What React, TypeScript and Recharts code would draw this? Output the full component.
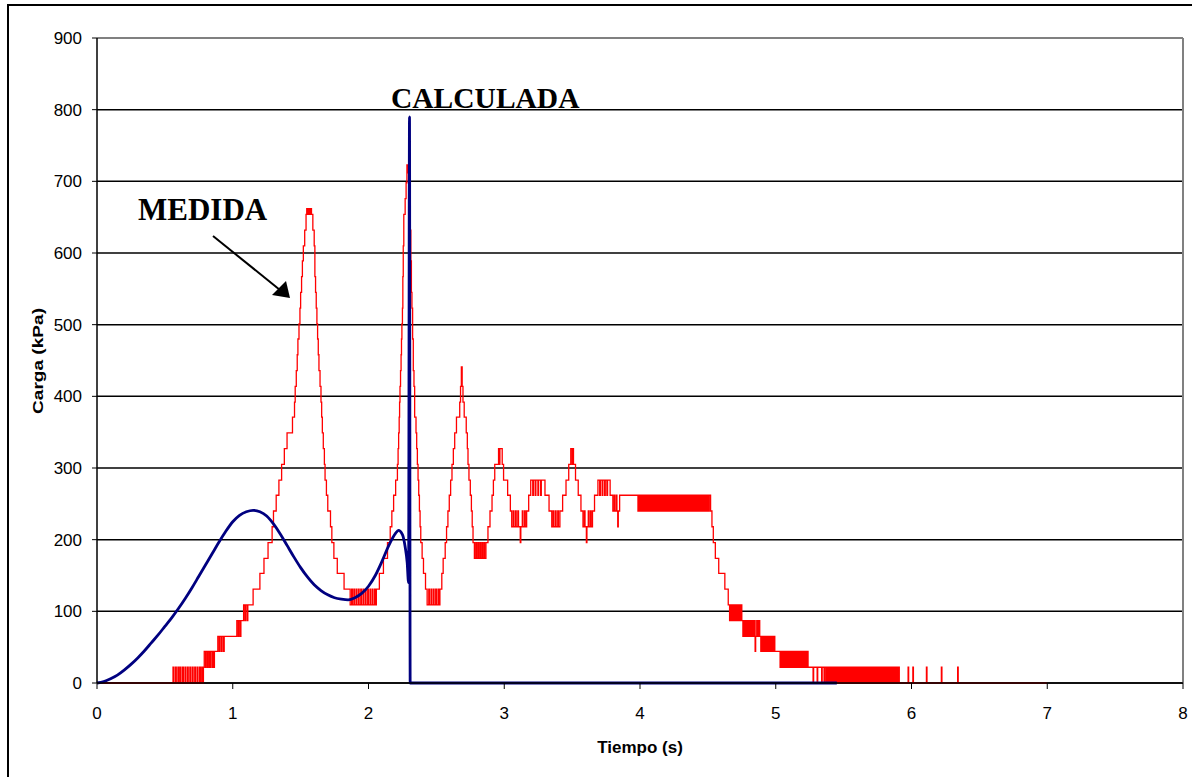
import { LineChart, Line, XAxis, YAxis, CartesianGrid, ReferenceLine } from 'recharts'

const MEDIDA_SUBIDA = [
    [0, 0], [0.56, 22], [0.566, 0], [0.578, 22], [0.584, 0], [0.596, 22], [0.602, 0], [0.612, 22], [0.618, 0],
    [0.63, 22], [0.636, 0], [0.648, 22], [0.654, 0], [0.666, 22], [0.672, 0], [0.684, 22], [0.69, 0], [0.702, 22],
    [0.708, 0], [0.72, 22], [0.726, 0], [0.738, 22], [0.744, 0], [0.756, 22], [0.762, 0], [0.772, 22], [0.778, 0],
    [0.784, 22], [0.79, 44], [0.8, 22], [0.805, 44], [0.815, 22], [0.82, 44], [0.83, 22], [0.835, 44], [0.846, 22],
    [0.851, 44], [0.86, 22], [0.865, 44], [0.89, 65], [0.9, 44], [0.905, 65], [0.916, 44], [0.921, 65], [0.932, 44],
    [0.937, 65], [1.03, 87], [1.04, 65], [1.045, 87], [1.055, 65], [1.06, 87], [1.08, 109], [1.09, 87], [1.095, 109],
    [1.106, 87], [1.111, 109], [1.15, 131], [1.2, 153], [1.23, 174], [1.26, 196],
]

const MEDIDA_PICO_1 = [
    [1.29, 218], [1.3, 240], [1.32, 262], [1.34, 283], [1.36, 305], [1.38, 327], [1.4, 349], [1.44, 371],
    [1.455, 392], [1.46, 414], [1.468, 436], [1.475, 458], [1.48, 480], [1.488, 501], [1.495, 523], [1.5, 545],
    [1.507, 567], [1.513, 589], [1.52, 610], [1.53, 632], [1.54, 654], [1.545, 662], [1.552, 654], [1.558, 662],
    [1.565, 654], [1.572, 662], [1.58, 654], [1.59, 632], [1.6, 610], [1.605, 567], [1.61, 545], [1.615, 523],
    [1.62, 501], [1.625, 480], [1.63, 458], [1.635, 436], [1.643, 414], [1.65, 392], [1.655, 371], [1.66, 349],
    [1.667, 327], [1.675, 305], [1.68, 283], [1.69, 262], [1.7, 240], [1.72, 218], [1.73, 196], [1.745, 174],
    [1.77, 153], [1.82, 131],
]

const MEDIDA_VALLE_1 = [
    [1.865, 109], [1.876, 131], [1.881, 109], [1.892, 131], [1.897, 109], [1.909, 131], [1.914, 109], [1.926, 131],
    [1.931, 109], [1.943, 131], [1.948, 109], [1.96, 131], [1.965, 109], [1.977, 131], [1.982, 109], [1.994, 131],
    [1.999, 109], [2.011, 131], [2.016, 109], [2.028, 131], [2.033, 109], [2.045, 131], [2.05, 109], [2.058, 131],
]

const MEDIDA_PICO_2 = [
    [2.08, 153], [2.11, 174], [2.14, 196], [2.16, 218], [2.172, 240], [2.185, 262], [2.2, 283], [2.213, 305],
    [2.218, 327], [2.222, 349], [2.226, 371], [2.229, 392], [2.232, 414], [2.236, 436], [2.24, 458], [2.243, 480],
    [2.246, 501], [2.25, 523], [2.253, 567], [2.256, 610], [2.26, 654], [2.27, 676], [2.277, 698], [2.283, 723],
    [2.29, 712], [2.295, 723], [2.3, 698], [2.305, 676], [2.308, 632], [2.312, 589], [2.316, 545], [2.32, 523],
    [2.325, 480], [2.33, 436], [2.335, 414], [2.34, 371], [2.35, 349], [2.355, 327], [2.36, 305], [2.365, 283],
    [2.37, 262], [2.375, 240], [2.38, 218], [2.385, 196], [2.395, 174], [2.405, 153], [2.42, 131],
]

const MEDIDA_VALLE_2 = [
    [2.432, 109], [2.444, 131], [2.449, 109], [2.461, 131], [2.466, 109], [2.478, 131], [2.483, 109], [2.495, 131],
    [2.5, 109], [2.512, 131], [2.517, 109], [2.526, 131],
]

const MEDIDA_OSCILACION = [
    [2.54, 153], [2.55, 174], [2.565, 196], [2.575, 218], [2.585, 240], [2.595, 262], [2.605, 283], [2.615, 305],
    [2.625, 327], [2.635, 349], [2.648, 371], [2.672, 392], [2.678, 414], [2.684, 441], [2.69, 414], [2.696, 392],
    [2.705, 371], [2.72, 349], [2.728, 327], [2.733, 305], [2.74, 283], [2.75, 262], [2.758, 240], [2.764, 218],
    [2.77, 196], [2.78, 174], [2.79, 196], [2.795, 174], [2.805, 196], [2.81, 174], [2.82, 196], [2.825, 174],
    [2.835, 196], [2.84, 174], [2.85, 196], [2.855, 174], [2.865, 196], [2.88, 218], [2.895, 240], [2.91, 262],
    [2.92, 283], [2.93, 305], [2.958, 327], [2.963, 305], [2.968, 327], [2.985, 305], [2.995, 283], [3.025, 262],
    [3.045, 240], [3.055, 218], [3.066, 240], [3.071, 218], [3.083, 240], [3.088, 218], [3.1, 240], [3.105, 218],
    [3.118, 196], [3.122, 218], [3.133, 240], [3.138, 218], [3.15, 240], [3.155, 218], [3.165, 240], [3.18, 262],
    [3.195, 283], [3.21, 262], [3.215, 283], [3.228, 262], [3.233, 283], [3.248, 262], [3.253, 283], [3.268, 262],
    [3.273, 283], [3.3, 262], [3.33, 240], [3.35, 218], [3.36, 240], [3.365, 218], [3.377, 240], [3.382, 218],
    [3.394, 240], [3.399, 218], [3.41, 240], [3.43, 262], [3.455, 283], [3.475, 305], [3.49, 327], [3.5, 305],
    [3.505, 327], [3.51, 305], [3.525, 283], [3.545, 262], [3.565, 240], [3.58, 218], [3.59, 240], [3.595, 218],
    [3.605, 196], [3.609, 218], [3.619, 240], [3.624, 218], [3.635, 240], [3.64, 218], [3.65, 240], [3.665, 262],
    [3.69, 283], [3.703, 262], [3.708, 283], [3.721, 262], [3.726, 283], [3.739, 262], [3.744, 283], [3.756, 262],
    [3.761, 283], [3.78, 262], [3.8, 240], [3.81, 262], [3.815, 240], [3.826, 262], [3.83, 240], [3.836, 218],
    [3.84, 240], [3.85, 262],
]

const MEDIDA_MESETA = [
    [3.985, 240], [3.99, 262], [3.998, 240], [4.003, 262], [4.011, 240], [4.016, 262], [4.024, 240], [4.029, 262],
    [4.037, 240], [4.042, 262], [4.05, 240], [4.055, 262], [4.063, 240], [4.068, 262], [4.076, 240], [4.081, 262],
    [4.089, 240], [4.094, 262], [4.102, 240], [4.107, 262], [4.115, 240], [4.12, 262], [4.128, 240], [4.133, 262],
    [4.141, 240], [4.146, 262], [4.154, 240], [4.159, 262], [4.167, 240], [4.172, 262], [4.18, 240], [4.185, 262],
    [4.193, 240], [4.198, 262], [4.206, 240], [4.211, 262], [4.219, 240], [4.224, 262], [4.232, 240], [4.237, 262],
    [4.245, 240], [4.25, 262], [4.258, 240], [4.263, 262], [4.271, 240], [4.276, 262], [4.284, 240], [4.289, 262],
    [4.297, 240], [4.302, 262], [4.31, 240], [4.315, 262], [4.323, 240], [4.328, 262], [4.336, 240], [4.341, 262],
    [4.349, 240], [4.354, 262], [4.362, 240], [4.367, 262], [4.375, 240], [4.38, 262], [4.388, 240], [4.393, 262],
    [4.401, 240], [4.406, 262], [4.414, 240], [4.419, 262], [4.427, 240], [4.432, 262], [4.44, 240], [4.445, 262],
    [4.453, 240], [4.458, 262], [4.466, 240], [4.471, 262], [4.479, 240], [4.484, 262], [4.492, 240], [4.497, 262],
    [4.505, 240], [4.51, 262],
]

const MEDIDA_BAJADA = [
    [4.52, 240], [4.53, 218], [4.54, 196], [4.555, 174], [4.58, 153], [4.625, 131], [4.65, 109], [4.66, 87],
    [4.668, 109], [4.675, 87], [4.683, 109], [4.69, 87], [4.698, 109], [4.705, 87], [4.713, 109], [4.72, 87],
    [4.728, 109], [4.735, 87], [4.743, 109], [4.75, 87], [4.758, 65], [4.765, 87], [4.773, 65], [4.78, 87],
    [4.788, 65], [4.795, 87], [4.803, 65], [4.81, 87], [4.818, 65], [4.825, 87], [4.833, 65], [4.84, 87],
    [4.848, 44], [4.852, 65], [4.86, 87], [4.866, 65], [4.875, 87], [4.882, 65], [4.89, 44], [4.897, 65],
    [4.905, 44], [4.912, 65], [4.92, 44], [4.927, 65], [4.935, 44], [4.942, 65], [4.95, 44], [4.957, 65],
    [4.965, 44], [4.972, 65], [4.98, 44], [4.987, 65], [4.993, 44], [5.032, 22], [5.039, 44], [5.046, 22],
    [5.053, 44], [5.06, 22], [5.067, 44], [5.075, 22], [5.082, 44], [5.09, 22], [5.097, 44], [5.105, 22],
    [5.112, 44], [5.12, 22], [5.127, 44], [5.135, 22], [5.142, 44], [5.15, 22], [5.157, 44], [5.165, 22],
    [5.172, 44], [5.18, 22], [5.187, 44], [5.195, 22], [5.202, 44], [5.21, 22], [5.217, 44], [5.225, 22],
    [5.232, 44], [5.238, 22], [5.275, 0], [5.279, 22], [5.305, 0], [5.309, 22], [5.338, 0], [5.342, 22],
    [5.356, 0], [5.36, 22], [5.37, 0], [5.379, 22], [5.388, 0], [5.397, 22], [5.406, 0], [5.415, 22], [5.424, 0],
    [5.433, 22], [5.442, 0], [5.451, 22], [5.46, 0], [5.469, 22], [5.478, 0], [5.487, 22], [5.496, 0], [5.505, 22],
    [5.514, 0], [5.523, 22], [5.532, 0], [5.541, 22], [5.55, 0], [5.559, 22], [5.568, 0], [5.577, 22], [5.586, 0],
    [5.595, 22], [5.604, 0], [5.613, 22], [5.622, 0], [5.631, 22], [5.64, 0], [5.649, 22], [5.658, 0], [5.667, 22],
    [5.676, 0], [5.685, 22], [5.694, 0], [5.703, 22], [5.712, 0], [5.721, 22], [5.73, 0], [5.739, 22], [5.748, 0],
    [5.757, 22], [5.766, 0], [5.775, 22], [5.784, 0], [5.793, 22], [5.802, 0], [5.811, 22], [5.82, 0], [5.829, 22],
    [5.838, 0], [5.847, 22], [5.856, 0], [5.865, 22], [5.874, 0], [5.883, 22], [5.892, 0], [5.901, 22], [5.91, 0],
    [5.975, 22], [5.979, 0], [6.01, 22], [6.014, 0], [6.11, 22], [6.114, 0], [6.22, 22], [6.224, 0], [6.34, 22],
    [6.344, 0], [7.0, 0],
]

// Carga calculada (kPa)
const CALCULADA = [
    [0, 0], [0.05, 2], [0.1, 6], [0.15, 11], [0.2, 18], [0.25, 26], [0.3, 35], [0.35, 45], [0.4, 56], [0.45, 67],
    [0.5, 79], [0.55, 91], [0.6, 104], [0.65, 118], [0.7, 133], [0.75, 149], [0.8, 165], [0.85, 181], [0.9, 197],
    [0.95, 212], [1.0, 225], [1.05, 234], [1.1, 239], [1.15, 241], [1.2, 239], [1.25, 233], [1.3, 222], [1.35, 208],
    [1.4, 192], [1.45, 176], [1.5, 161], [1.55, 148], [1.6, 137], [1.65, 129], [1.7, 123], [1.75, 119], [1.8, 117],
    [1.85, 116], [1.9, 119], [1.95, 125], [2.0, 135], [2.05, 150], [2.1, 170], [2.15, 192], [2.2, 209], [2.22, 213],
    [2.25, 207], [2.27, 190], [2.285, 168], [2.295, 140], [2.302, 790], [2.307, 0], [5.45, 0],
]

const X_TICKS = [0, 1, 2, 3, 4, 5, 6, 7, 8]
const Y_TICKS = [0, 100, 200, 300, 400, 500, 600, 700, 800, 900]

const toPoints = (rows: number[][]) => rows.map(([t, v]) => ({ t, v }))

const medida = toPoints([
    ...MEDIDA_SUBIDA,
    ...MEDIDA_PICO_1,
    ...MEDIDA_VALLE_1,
    ...MEDIDA_PICO_2,
    ...MEDIDA_VALLE_2,
    ...MEDIDA_OSCILACION,
    ...MEDIDA_MESETA,
    ...MEDIDA_BAJADA,
])
const calculada = toPoints(CALCULADA)

const sans = '"Liberation Sans", Arial, sans-serif'
const serif = '"Liberation Serif", "Times New Roman", serif'

export default function App() {
    return (
        <div style={{ position: 'absolute', left: 0, top: 0, width: 1192, height: 777, overflow: 'hidden', background: '#fff' }}>
            {/* marco exterior */}
            <div style={{ position: 'absolute', left: 7, top: 4, width: 1400, height: 1000, border: '2px solid #000' }} />

            <div style={{ position: 'absolute', left: 0, top: 0 }}>
                <LineChart width={1192} height={777} margin={{ top: 38, right: 9, bottom: 54, left: 37 }}>
                    <CartesianGrid vertical={false} stroke="#000" strokeWidth={1.5} />
                    <XAxis
                        dataKey="t"
                        type="number"
                        domain={[0, 8]}
                        ticks={X_TICKS}
                        height={40}
                        tickSize={6}
                        tickMargin={18}
                        axisLine={{ stroke: '#000', strokeWidth: 1.5 }}
                        tickLine={{ stroke: '#000' }}
                        tick={{ fill: '#000', fontSize: 17, fontFamily: sans }}
                    />
                    <YAxis
                        type="number"
                        domain={[0, 900]}
                        ticks={Y_TICKS}
                        width={60}
                        tickSize={5}
                        tickMargin={10}
                        axisLine={{ stroke: '#000', strokeWidth: 1.5 }}
                        tickLine={{ stroke: '#000' }}
                        tick={{ fill: '#000', fontSize: 17, fontFamily: sans }}
                    />
                    <ReferenceLine y={900} stroke="#808080" strokeWidth={2} />
                    <ReferenceLine x={8} stroke="#808080" strokeWidth={2} />
                    <Line
                        data={medida}
                        dataKey="v"
                        type="stepAfter"
                        stroke="#ff0000"
                        strokeWidth={1.3}
                        dot={false}
                        activeDot={false}
                        isAnimationActive={false}
                    />
                    <Line
                        data={calculada}
                        dataKey="v"
                        type="monotone"
                        stroke="#000080"
                        strokeWidth={2.8}
                        dot={false}
                        activeDot={false}
                        isAnimationActive={false}
                    />
                </LineChart>
            </div>

            {/* rótulos y flecha */}
            <svg width={1192} height={777} style={{ position: 'absolute', left: 0, top: 0, pointerEvents: 'none' }}>
                <text
                    x={43}
                    y={361}
                    transform="rotate(-90 43 361)"
                    textAnchor="middle"
                    fontFamily={sans}
                    fontWeight="bold"
                    fontSize={15}
                    textLength={106}
                    lengthAdjust="spacingAndGlyphs"
                >
                    Carga (kPa)
                </text>
                <text x={640} y={753} textAnchor="middle" fontFamily={sans} fontWeight="bold" fontSize={17}>
                    Tiempo (s)
                </text>
                <text x={138} y={220} fontFamily={serif} fontWeight="bold" fontSize={31}>
                    MEDIDA
                </text>
                <text x={391} y={108} fontFamily={serif} fontWeight="bold" fontSize={29.5}>
                    CALCULADA
                </text>
                <line x1={213} y1={236} x2={280} y2={290} stroke="#000" strokeWidth={2} />
                <polygon points="290,298 272,295 286,281" fill="#000" />
            </svg>
        </div>
    )
}
